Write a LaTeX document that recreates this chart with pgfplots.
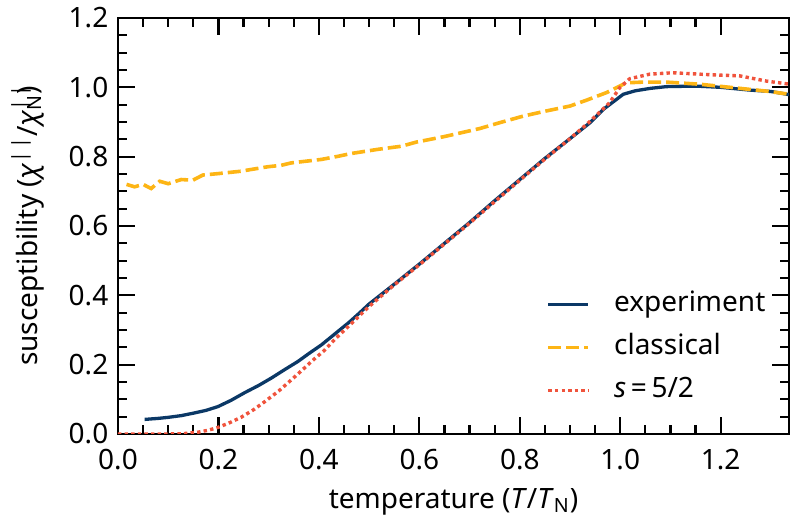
\documentclass[border=0pt]{standalone}
\usepackage{fontspec}
\setmainfont{Noto Sans}
\usepackage{pgfplots}
\pgfplotsset{compat=1.18}
\definecolor{cblue}{HTML}{0B3866}
\definecolor{corange}{HTML}{FDB515}
\definecolor{cred}{HTML}{F0533C}
\begin{document}
\fontsize{14}{17}\selectfont
\begin{tikzpicture}
\begin{axis}[
  scale only axis,
  width=335.5pt, height=208pt,
  xmin=0, xmax=1.336, ymin=0, ymax=1.2,
  xtick={0,0.2,...,1.21}, ytick={0,0.2,...,1.21},
  minor x tick num=3, minor y tick num=3,
  tick align=inside,
  major tick length=8.5pt, minor tick length=4.5pt,
  every tick/.style={black, line width=1.1pt},
  axis line style={line width=1.35pt},
  /pgf/number format/.cd, fixed, fixed zerofill, precision=1, assume math mode=true,
  /pgfplots/.cd,
  ticklabel style={font=\fontsize{14}{17}\selectfont},
  xticklabel style={anchor=center, yshift=-13pt},
  label style={font=\fontsize{14}{17}\selectfont},
  xlabel={temperature (\textit{T}/\textit{T}\textsubscript{N})},
  xlabel style={at={(rel axis cs:0.5,0)}, anchor=center, yshift=-34pt},
  ylabel={susceptibility (\textit{χ}\textsuperscript{|\,|}/\textit{χ}\rlap{\textsuperscript{|\,|}}\textsubscript{N})},
  ylabel style={at={(rel axis cs:0,0.5)}, anchor=center, yshift=45pt},
  legend style={at={(0.638,0.072)}, anchor=south west, draw=none, fill=none, inner sep=0pt,
    font=\fontsize{14}{17}\selectfont, row sep=8.5pt, column sep=12pt,
    nodes={inner sep=0pt, text height=10pt, text depth=3pt}},
  legend cell align=left,
  legend image code/.code={\draw[#1] (0pt,0pt) -- (20pt,0pt);},
]
\coordinate (SW) at (rel axis cs:0,0);
\coordinate (NE) at (rel axis cs:1,1);
\addplot[cblue, line width=1.65pt] coordinates {
(0.053,0.042)(0.08,0.045)(0.10,0.048)(0.126,0.053)(0.15,0.060)(0.175,0.068)(0.199,0.079)(0.225,0.097)(0.252,0.119)(0.28,0.140)(0.305,0.161)(0.33,0.184)(0.358,0.209)(0.38,0.232)(0.405,0.257)(0.438,0.296)(0.46,0.322)(0.48,0.348)(0.50,0.375)(0.55,0.432)(0.60,0.490)(0.65,0.550)(0.70,0.610)(0.75,0.673)(0.80,0.734)(0.85,0.795)(0.90,0.852)(0.94,0.898)(0.966,0.936)(1.006,0.980)(1.03,0.990)(1.06,0.997)(1.092,1.002)(1.13,1.003)(1.158,1.003)(1.2,1.000)(1.258,0.992)(1.30,0.988)(1.34,0.978)
};
\addlegendentry{experiment}
\addplot[corange, line width=1.8pt, dash pattern=on 6.5pt off 2.5pt] coordinates {
(0.017,0.720)(0.033,0.713)(0.05,0.720)(0.066,0.708)(0.083,0.729)(0.1,0.722)(0.126,0.734)(0.149,0.732)(0.169,0.747)(0.199,0.751)(0.245,0.758)(0.265,0.763)(0.299,0.771)(0.325,0.775)(0.345,0.782)(0.405,0.792)(0.438,0.801)(0.464,0.809)(0.517,0.821)(0.564,0.830)(0.594,0.842)(0.65,0.858)(0.72,0.881)(0.76,0.898)(0.807,0.917)(0.85,0.931)(0.9,0.946)(0.933,0.963)(0.973,0.985)(1.012,1.013)(1.045,1.015)(1.092,1.015)(1.158,1.009)(1.225,0.999)(1.291,0.989)(1.337,0.980)
};
\addlegendentry{classical}
\addplot[cred, line width=1.7pt, dash pattern=on 1.7pt off 1.6pt] coordinates {
(0,0)(0.05,0)(0.10,0)(0.13,0.001)(0.159,0.005)(0.18,0.011)(0.199,0.019)(0.22,0.031)(0.245,0.048)(0.27,0.070)(0.292,0.093)(0.32,0.124)(0.345,0.156)(0.365,0.182)(0.385,0.209)(0.41,0.240)(0.431,0.272)(0.46,0.312)(0.50,0.368)(0.55,0.430)(0.60,0.488)(0.65,0.548)(0.70,0.608)(0.75,0.670)(0.80,0.732)(0.85,0.793)(0.90,0.852)(0.94,0.902)(0.979,0.956)(0.999,0.999)(1.019,1.025)(1.059,1.038)(1.105,1.042)(1.184,1.036)(1.238,1.033)(1.291,1.018)(1.337,1.009)
};
\addlegendentry{\textit{s}\,=\,5/2}
\end{axis}
\pgfresetboundingbox
\path[use as bounding box] ([shift={(-59pt,-41pt)}]SW) rectangle ([shift={(1pt,9pt)}]NE);
\end{tikzpicture}
\end{document}
